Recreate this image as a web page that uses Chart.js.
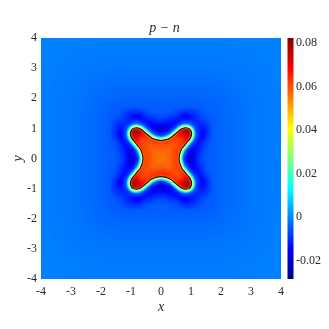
<!DOCTYPE html>
<html><head><meta charset="utf-8">
<style>html,body{margin:0;padding:0;background:#fff}canvas{display:block}</style>
<script src="https://cdn.jsdelivr.net/npm/chart.js@4"></script>
</head><body><canvas id="c" width="329" height="329"></canvas>
<script>
const chartTitle = "p − n";
const xTitle = "x";
const yTitle = "y";
const axisTicks = [-4,-3,-2,-1,0,1,2,3,4];
const colorbarTicks = [-0.02,0,0.02,0.04,0.06,0.08];
const colorbarMin = -0.0283;
const colorbarMax = 0.0823;
const jetStops = [[0,"#000080"],[0.125,"#0000ff"],[0.375,"#00ffff"],[0.625,"#ffff00"],[0.875,"#ff0000"],[1,"#800000"]];

// far field, thousandths, sampled every 0.5
const outerAxis = [4,3.5,3,2.5,2,1.5,1,0.5,0,-0.5,-1,-1.5,-2,-2.5,-3,-3.5,-4];
const outerValues = [
[-.5,-.5,-.6,-.6,-.7,-.7,-.7,-.7,-.7,-.7,-.7,-.7,-.7,-.6,-.6,-.5,-.5],
[-.5,-.6,-.8,-.9,-1,-1,-1,-1,-1,-1,-1,-1,-1,-.9,-.8,-.6,-.5],
[-.6,-.8,-1.1,-1.3,-1.5,-1.5,-1.5,-1.5,-1.5,-1.5,-1.5,-1.5,-1.5,-1.3,-1.1,-.8,-.6],
[-.6,-.9,-1.3,-1.8,-2.2,-2.5,-2.5,-2.5,-2.5,-2.5,-2.5,-2.5,-2.2,-1.8,-1.3,-.9,-.6],
[-.7,-1,-1.5,-2.2,-3,-3.5,-3.5,-3.5,-3.5,-3.5,-3.5,-3.5,-3,-2.2,-1.5,-1,-.7],
[-.7,-1,-1.5,-2.5,-3.5,-5,-5,-5,-5,-5,-5,-5,-3.5,-2.5,-1.5,-1,-.7],
[-.7,-1,-1.5,-2.5,-3.5,-5,-5,-5,-5,-5,-5,-5,-3.5,-2.5,-1.5,-1,-.7],
[-.7,-1,-1.5,-2.5,-3.5,-5,-5,-5,-5,-5,-5,-5,-3.5,-2.5,-1.5,-1,-.7],
[-.7,-1,-1.5,-2.5,-3.5,-5,-5,-5,-5,-5,-5,-5,-3.5,-2.5,-1.5,-1,-.7],
[-.7,-1,-1.5,-2.5,-3.5,-5,-5,-5,-5,-5,-5,-5,-3.5,-2.5,-1.5,-1,-.7],
[-.7,-1,-1.5,-2.5,-3.5,-5,-5,-5,-5,-5,-5,-5,-3.5,-2.5,-1.5,-1,-.7],
[-.7,-1,-1.5,-2.5,-3.5,-5,-5,-5,-5,-5,-5,-5,-3.5,-2.5,-1.5,-1,-.7],
[-.7,-1,-1.5,-2.2,-3,-3.5,-3.5,-3.5,-3.5,-3.5,-3.5,-3.5,-3,-2.2,-1.5,-1,-.7],
[-.6,-.9,-1.3,-1.8,-2.2,-2.5,-2.5,-2.5,-2.5,-2.5,-2.5,-2.5,-2.2,-1.8,-1.3,-.9,-.6],
[-.6,-.8,-1.1,-1.3,-1.5,-1.5,-1.5,-1.5,-1.5,-1.5,-1.5,-1.5,-1.5,-1.3,-1.1,-.8,-.6],
[-.5,-.6,-.8,-.9,-1,-1,-1,-1,-1,-1,-1,-1,-1,-.9,-.8,-.6,-.5],
[-.5,-.5,-.6,-.6,-.7,-.7,-.7,-.7,-.7,-.7,-.7,-.7,-.7,-.6,-.6,-.5,-.5]
];

// blue halo around the cross, thousandths, sampled every 0.1
const haloAxis = [1.6,1.5,1.4,1.3,1.2,1.1,1,.9,.8,.7,.6,.5,.4,.3,.2,.1,0,-.1,-.2,-.3,-.4,-.5,-.6,-.7,-.8,-.9,-1,-1.1,-1.2,-1.3,-1.4,-1.5,-1.6];
const haloValues = [
[-4,-4,-4,-5,-6,-7,-8,-8,-8,-7,-6,-5,-5,-4,-4,-4,-4,-4,-4,-4,-5,-5,-6,-7,-8,-8,-8,-7,-6,-5,-4,-4,-4],
[-4,-5,-5,-6,-8,-9,-10,-11,-11,-10,-8,-7,-6,-6,-5,-5,-5,-5,-5,-6,-6,-7,-8,-10,-11,-11,-10,-9,-8,-6,-5,-5,-4],
[-4,-5,-6,-7,-9,-11,-12,-14,-15,-14,-11,-9,-8,-8,-7,-6,-6,-6,-7,-8,-8,-9,-11,-14,-15,-14,-12,-11,-9,-7,-6,-5,-4],
[-5,-6,-7,-8,-9,-11,-12,-13,-14,-14,-14,-12,-11,-10,-9,-8,-8,-8,-9,-10,-11,-12,-14,-14,-14,-13,-12,-11,-9,-8,-7,-6,-5],
[-6,-8,-9,-9,-10,-11,-8,-8,-6,-7,-12,-14,-13,-13,-12,-11,-11,-11,-12,-13,-13,-14,-12,-7,-6,-8,-8,-11,-10,-9,-9,-8,-6],
[-7,-9,-11,-11,-11,-8,-2,-2,-2,-2,-3,-11,-14,-16,-16,-15,-15,-15,-16,-16,-14,-11,-3,-2,-2,-2,-2,-8,-11,-11,-11,-9,-7],
[-8,-10,-12,-12,-8,-2,-2,-2,-2,-2,-2,-2,-9,-16,-18,-19,-19,-19,-18,-16,-9,-2,-2,-2,-2,-2,-2,-2,-8,-12,-12,-10,-8],
[-8,-11,-14,-13,-8,-2,-2,-2,-2,-2,-2,-2,-2,-10,-14,-18,-19,-18,-14,-10,-2,-2,-2,-2,-2,-2,-2,-2,-8,-13,-14,-11,-8],
[-8,-11,-15,-14,-6,-2,-2,-2,-2,-2,-2,-2,-2,-2,-4,-10,-12,-10,-4,-2,-2,-2,-2,-2,-2,-2,-2,-2,-6,-14,-15,-11,-8],
[-7,-10,-14,-14,-7,-2,-2,-2,-2,-2,-2,-2,-2,-2,-2,-2,-2,-2,-2,-2,-2,-2,-2,-2,-2,-2,-2,-2,-7,-14,-14,-10,-7],
[-6,-8,-11,-14,-12,-3,-2,-2,-2,-2,-2,-2,-2,-2,-2,-2,-2,-2,-2,-2,-2,-2,-2,-2,-2,-2,-2,-3,-12,-14,-11,-8,-6],
[-5,-7,-9,-12,-14,-11,-2,-2,-2,-2,-2,-2,-2,-2,-2,-2,-2,-2,-2,-2,-2,-2,-2,-2,-2,-2,-2,-11,-14,-12,-9,-7,-5],
[-5,-6,-8,-11,-13,-14,-9,-2,-2,-2,-2,-2,-2,-2,-2,-2,-2,-2,-2,-2,-2,-2,-2,-2,-2,-2,-9,-14,-13,-11,-8,-6,-5],
[-4,-6,-8,-10,-13,-16,-16,-10,-2,-2,-2,-2,-2,-2,-2,-2,-2,-2,-2,-2,-2,-2,-2,-2,-2,-10,-16,-16,-13,-10,-8,-6,-4],
[-4,-5,-7,-9,-12,-16,-18,-14,-4,-2,-2,-2,-2,-2,-2,-2,-2,-2,-2,-2,-2,-2,-2,-2,-4,-14,-18,-16,-12,-9,-7,-5,-4],
[-4,-5,-6,-8,-11,-15,-19,-18,-10,-2,-2,-2,-2,-2,-2,-2,-2,-2,-2,-2,-2,-2,-2,-2,-10,-18,-19,-15,-11,-8,-6,-5,-4],
[-4,-5,-6,-8,-11,-15,-19,-19,-12,-2,-2,-2,-2,-2,-2,-2,-2,-2,-2,-2,-2,-2,-2,-2,-12,-19,-19,-15,-11,-8,-6,-5,-4],
[-4,-5,-6,-8,-11,-15,-19,-18,-10,-2,-2,-2,-2,-2,-2,-2,-2,-2,-2,-2,-2,-2,-2,-2,-10,-18,-19,-15,-11,-8,-6,-5,-4],
[-4,-5,-7,-9,-12,-16,-18,-14,-4,-2,-2,-2,-2,-2,-2,-2,-2,-2,-2,-2,-2,-2,-2,-2,-4,-14,-18,-16,-12,-9,-7,-5,-4],
[-4,-6,-8,-10,-13,-16,-16,-10,-2,-2,-2,-2,-2,-2,-2,-2,-2,-2,-2,-2,-2,-2,-2,-2,-2,-10,-16,-16,-13,-10,-8,-6,-4],
[-5,-6,-8,-11,-13,-14,-9,-2,-2,-2,-2,-2,-2,-2,-2,-2,-2,-2,-2,-2,-2,-2,-2,-2,-2,-2,-9,-14,-13,-11,-8,-6,-5],
[-5,-7,-9,-12,-14,-11,-2,-2,-2,-2,-2,-2,-2,-2,-2,-2,-2,-2,-2,-2,-2,-2,-2,-2,-2,-2,-2,-11,-14,-12,-9,-7,-5],
[-6,-8,-11,-14,-12,-3,-2,-2,-2,-2,-2,-2,-2,-2,-2,-2,-2,-2,-2,-2,-2,-2,-2,-2,-2,-2,-2,-3,-12,-14,-11,-8,-6],
[-7,-10,-14,-14,-7,-2,-2,-2,-2,-2,-2,-2,-2,-2,-2,-2,-2,-2,-2,-2,-2,-2,-2,-2,-2,-2,-2,-2,-7,-14,-14,-10,-7],
[-8,-11,-15,-14,-6,-2,-2,-2,-2,-2,-2,-2,-2,-2,-4,-10,-12,-10,-4,-2,-2,-2,-2,-2,-2,-2,-2,-2,-6,-14,-15,-11,-8],
[-8,-11,-14,-13,-8,-2,-2,-2,-2,-2,-2,-2,-2,-10,-14,-18,-19,-18,-14,-10,-2,-2,-2,-2,-2,-2,-2,-2,-8,-13,-14,-11,-8],
[-8,-10,-12,-12,-8,-2,-2,-2,-2,-2,-2,-2,-9,-16,-18,-19,-19,-19,-18,-16,-9,-2,-2,-2,-2,-2,-2,-2,-8,-12,-12,-10,-8],
[-7,-9,-11,-11,-11,-8,-2,-2,-2,-2,-3,-11,-14,-16,-16,-15,-15,-15,-16,-16,-14,-11,-3,-2,-2,-2,-2,-8,-11,-11,-11,-9,-7],
[-6,-8,-9,-9,-10,-11,-8,-8,-6,-7,-12,-14,-13,-13,-12,-11,-11,-11,-12,-13,-13,-14,-12,-7,-6,-8,-8,-11,-10,-9,-9,-8,-6],
[-5,-6,-7,-8,-9,-11,-12,-13,-14,-14,-14,-12,-11,-10,-9,-8,-8,-8,-9,-10,-11,-12,-14,-14,-14,-13,-12,-11,-9,-8,-7,-6,-5],
[-4,-5,-6,-7,-9,-11,-12,-14,-15,-14,-11,-9,-8,-8,-7,-6,-6,-6,-7,-8,-8,-9,-11,-14,-15,-14,-12,-11,-9,-7,-6,-5,-4],
[-4,-5,-5,-6,-8,-9,-10,-11,-11,-10,-8,-7,-6,-6,-5,-5,-5,-5,-5,-6,-6,-7,-8,-10,-11,-11,-10,-9,-8,-6,-5,-5,-4],
[-4,-4,-4,-5,-6,-7,-8,-8,-8,-7,-6,-5,-5,-4,-4,-4,-4,-4,-4,-4,-5,-5,-6,-7,-8,-8,-8,-7,-6,-5,-4,-4,-4]
];

// inside of the cross, thousandths, sampled every 0.1
const coreAxis = [1.1,1,.9,.8,.7,.6,.5,.4,.3,.2,.1,0,-.1,-.2,-.3,-.4,-.5,-.6,-.7,-.8,-.9,-1,-1.1];
const coreValues = [
[79,79,79,76,73,70,67,65,63,63,63,63,63,63,63,65,67,70,73,76,79,79,79],
[79,79,79,76,73,70,67,65,63,63,63,63,63,63,63,65,67,70,73,76,79,79,79],
[79,79,79,76,72,70,67,65,63,63,63,63,63,63,63,65,67,70,72,76,79,79,79],
[76,76,76,75,70,68,65,65,63,63,63,63,63,63,63,65,65,68,70,75,76,76,76],
[73,73,72,70,65,63,63,63,63,63,63,63,63,63,63,63,63,63,65,70,72,73,73],
[70,70,70,68,63,61,61,61,62,63,63,63,63,63,62,61,61,61,63,68,70,70,70],
[67,67,67,65,63,61,60,60,60,61,61,61,61,61,60,60,60,61,63,65,67,67,67],
[65,65,65,65,63,61,60,59,59,59,59,59,59,59,59,59,60,61,63,65,65,65,65],
[63,63,63,63,63,62,61,60,58,58,58,58,58,58,58,59,60,62,63,63,63,63,63],
[63,63,63,63,63,62,62,60,58,57,57,57,57,57,58,60,60,62,63,63,63,63,63],
[63,63,63,63,63,63,62,60,58,57,56,56,56,57,58,60,60,63,63,63,63,63,63],
[63,63,63,63,63,63,62,60,58,57,56,56,56,57,58,60,60,63,63,63,63,63,63],
[63,63,63,63,63,63,62,60,58,57,56,56,56,57,58,60,60,63,63,63,63,63,63],
[63,63,63,63,63,62,62,60,58,57,57,57,57,57,58,60,60,62,63,63,63,63,63],
[63,63,63,63,63,62,61,60,58,58,58,58,58,58,58,59,60,62,63,63,63,63,63],
[65,65,65,65,63,61,60,60,60,60,61,61,61,60,60,60,60,61,63,65,65,65,65],
[67,67,67,65,63,61,60,61,62,63,64,64,64,63,62,61,60,61,63,65,67,67,67],
[70,70,70,68,63,61,61,62,63,64,65,65,65,64,63,62,61,61,63,68,70,70,70],
[73,73,72,70,65,63,63,63,63,63,63,63,63,63,63,63,63,63,65,70,72,73,73],
[76,76,76,75,70,68,65,65,63,63,63,63,63,63,63,65,65,68,70,75,76,76,76],
[79,79,79,76,72,70,67,65,63,63,63,63,63,63,63,65,67,70,72,76,79,79,79],
[79,79,79,76,73,70,67,65,63,63,63,63,63,63,63,65,67,70,73,76,79,79,79],
[79,79,79,76,73,70,67,65,63,63,63,63,63,63,63,65,67,70,73,76,79,79,79]
];

// the dark level curve around the cross
const contourX = [.6,.615,.64,.7,.78,.87,.97,1.02,1,.93,.8,.66,.54,.43,.33,.2,.1,0,
 -.1,-.2,-.33,-.43,-.54,-.66,-.8,-.93,-1,-1.02,-.97,-.87,-.78,-.7,-.64,-.615,-.6,
 -.615,-.64,-.7,-.78,-.87,-.97,-1.02,-1,-.93,-.8,-.66,-.54,-.43,-.33,-.2,-.1,0,
 .1,.2,.33,.43,.54,.66,.8,.93,1,1.02,.97,.87,.78,.7,.64,.615,.6];
const contourY = [0,.1,.2,.33,.43,.54,.66,.8,.92,1,1.02,.97,.87,.78,.7,.64,.615,.6,
 .615,.64,.7,.78,.87,.97,1.02,1,.92,.8,.66,.54,.43,.33,.2,.1,0,
 -.1,-.2,-.33,-.43,-.54,-.66,-.8,-.92,-1,-1.02,-.97,-.87,-.78,-.7,-.64,-.615,-.6,
 -.615,-.64,-.7,-.78,-.87,-.97,-1.02,-1,-.92,-.8,-.66,-.54,-.43,-.33,-.2,-.1,0];

// steep rim just outside the curve, thin bright band last
const rimColors = ["rgb(255,255,170)","rgb(190,255,110)","rgb(90,255,200)","rgb(0,225,255)","rgb(0,150,255)"];
const rimWidths = [2.5,4,5.5,7,8.5];

const contourPoints = contourX.map((x,i)=>({x,y:contourY[i]}));
const CORE=1, RIM_TOP=2, HALO=2+rimColors.length, FAR=HALO+1;

function hexRgb(h){return [1,3,5].map(i=>parseInt(h.substr(i,2),16));}
function jet(v){
  let t=(v-colorbarMin)/(colorbarMax-colorbarMin);
  t=Math.max(0,Math.min(1,t));
  for(let i=1;i<jetStops.length;i++){
    if(t<=jetStops[i][0]){
      const a=jetStops[i-1],b=jetStops[i],f=(t-a[0])/(b[0]-a[0]);
      const A=hexRgb(a[1]),B=hexRgb(b[1]);
      return `rgb(${A.map((c,k)=>Math.round(c+(B[k]-c)*f)).join(",")})`;
    }
  }
  return jetStops[jetStops.length-1][1];
}
function cells(axis,rows){
  const out=[];
  rows.forEach((row,r)=>row.forEach((val,c)=>out.push({x:axis[c],y:axis[r],v:val/1000})));
  return out;
}
function cellRadius(step,extra){
  return ctx=>{
    const s=ctx.chart.scales.x;
    return (Math.abs(s.getPixelForValue(step)-s.getPixelForValue(0))+extra)*Math.SQRT1_2;
  };
}
function blurPlot(chart,px){
  const a=chart.chartArea,g=chart.ctx,w=a.right-a.left,h=a.bottom-a.top;
  const off=document.createElement("canvas");
  off.width=chart.canvas.width;off.height=chart.canvas.height;
  off.getContext("2d").drawImage(chart.canvas,0,0);
  g.save();
  g.beginPath();g.rect(a.left,a.top,w,h);g.clip();
  g.filter=`blur(${px}px)`;
  g.drawImage(off,a.left,a.top,w,h,a.left,a.top,w,h);
  g.restore();
}
const smoothing={
  id:"smoothing",
  beforeDatasetDraw(chart,args){
    if(args.index===CORE){
      const g=chart.ctx,X=chart.scales.x,Y=chart.scales.y;
      g.save();g.beginPath();
      contourPoints.forEach((p,i)=>{
        const px=X.getPixelForValue(p.x),py=Y.getPixelForValue(p.y);
        if(i)g.lineTo(px,py);else g.moveTo(px,py);
      });
      g.closePath();g.clip();
    }
  },
  afterDatasetDraw(chart,args){
    if(args.index===FAR) blurPlot(chart,7);
    if(args.index===HALO) blurPlot(chart,1.5);
    if(args.index===RIM_TOP) blurPlot(chart,0.5);
    if(args.index===CORE){blurPlot(chart,1.1);chart.ctx.restore();}
  }
};
const colorbar={
  id:"colorbar",
  afterDraw(chart){
    const s=chart.scales.bar,g=chart.ctx,a=chart.chartArea;
    const top=s.getPixelForValue(colorbarMax),bot=s.getPixelForValue(colorbarMin);
    const grad=g.createLinearGradient(0,bot,0,top);
    jetStops.forEach(p=>grad.addColorStop(p[0],p[1]));
    g.save();g.fillStyle=grad;g.fillRect(a.right+6.5,top,6,bot-top);g.restore();
  }
};
const tickFont={family:"'Liberation Serif'",size:12};
const labelFont={family:"'Liberation Serif'",size:14,style:"italic"};
const inkColor="#2a2a2a";
new Chart(document.getElementById("c"),{
  type:"scatter",
  data:{datasets:[
    {label:"contour",showLine:true,tension:0.4,pointRadius:0,borderColor:"rgba(10,10,10,0.95)",borderWidth:1.1,fill:false,data:contourPoints},
    {label:"core",data:cells(coreAxis,coreValues),pointStyle:"rect",borderWidth:0,pointBorderWidth:0,
     pointRadius:cellRadius(0.1,0.5),backgroundColor:c=>jet(c.raw.v)},
    ...rimColors.map((color,i)=>({label:"rim "+i,showLine:true,tension:0.4,pointRadius:0,borderColor:color,borderWidth:rimWidths[i],fill:false,data:contourPoints})),
    {label:"halo",data:cells(haloAxis,haloValues),pointStyle:"rect",borderWidth:0,pointBorderWidth:0,
     pointRadius:cellRadius(0.1,0.5),backgroundColor:c=>jet(c.raw.v)},
    {label:"far field",data:cells(outerAxis,outerValues),pointStyle:"rect",borderWidth:0,pointBorderWidth:0,
     pointRadius:cellRadius(0.5,1),backgroundColor:c=>jet(c.raw.v)}
  ]},
  options:{
    responsive:false,animation:false,events:[],
    layout:{padding:0},
    plugins:{legend:{display:false},tooltip:{enabled:false},
      title:{display:true,text:chartTitle,color:inkColor,font:{family:"'Liberation Serif'",size:14,weight:"normal",style:"italic",lineHeight:1.2},padding:{top:19.5,bottom:1.7}}},
    scales:{
      x:{type:"linear",min:-4,max:4,grid:{display:false,drawTicks:false},border:{display:false},
        afterBuildTicks:s=>{s.ticks=axisTicks.map(value=>({value}));},
        afterFit:s=>{s.height=50;},
        ticks:{font:tickFont,color:inkColor,padding:6,maxRotation:0,autoSkip:false},
        title:{display:true,text:xTitle,color:inkColor,font:labelFont,padding:{top:0,bottom:13}}},
      y:{type:"linear",min:-4,max:4,grid:{display:false,drawTicks:false},border:{display:false},
        afterBuildTicks:s=>{s.ticks=axisTicks.map(value=>({value}));},
        afterFit:s=>{s.width=41;},
        ticks:{font:tickFont,color:inkColor,padding:4,autoSkip:false},
        title:{display:true,text:yTitle,color:inkColor,font:labelFont,padding:{top:10,bottom:0}}},
      bar:{type:"linear",position:"right",display:true,min:colorbarMin,max:colorbarMax,grid:{display:false,drawTicks:false},border:{display:false},
        afterBuildTicks:s=>{s.ticks=colorbarTicks.map(value=>({value}));},
        afterFit:s=>{s.width=48;},
        ticks:{font:tickFont,color:inkColor,padding:15,autoSkip:false,callback:v=>String(v)}}
    }
  },
  plugins:[smoothing,colorbar]
});
</script></body></html>
